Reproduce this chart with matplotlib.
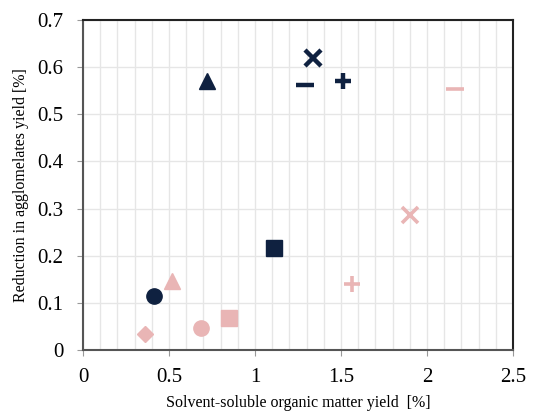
import matplotlib
matplotlib.use("Agg")
import matplotlib.pyplot as plt
import numpy as np

plt.rcParams['font.family'] = ['Liberation Serif', 'DejaVu Serif']

navy = "#0f2140"
pink = "#e9b5b5"

# series: (marker, x, y)
dark_markers = ["o", "^", "s", "_", "x", "+"]
dark_x = [0.41, 0.72, 1.11, 1.29, 1.335, 1.51]
dark_y = [0.115, 0.57, 0.216, 0.563, 0.62, 0.571]

pink_markers = ["D", "^", "o", "s", "+", "x", "_"]
pink_x = [0.36, 0.515, 0.686, 0.85, 1.566, 1.90, 2.16]
pink_y = [0.035, 0.147, 0.046, 0.067, 0.139, 0.287, 0.554]

xticks = [0, 0.5, 1, 1.5, 2, 2.5]
xticklabels = ["0", "0.5", "1", "1.5", "2", "2.5"]
yticks = [0, 0.1, 0.2, 0.3, 0.4, 0.5, 0.6, 0.7]
yticklabels = ["0", "0.1", "0.2", "0.3", "0.4", "0.5", "0.6", "0.7"]

fig = plt.figure(figsize=(5.36, 4.13), dpi=100)
ax = fig.add_axes([83/536, 1-350/413, (513-83)/536, (350-20)/413])

sizes = {"o": 11, "^": 11, "s": 11, "D": 8, "_": 13, "x": 12, "+": 12}
mew = {"o": 1, "^": 1, "s": 1, "D": 1, "_": 3.2, "x": 3.2, "+": 3.2}
pmew = {"o": 1, "^": 1, "s": 1, "D": 1, "_": 2.6, "x": 2.6, "+": 2.6}

for m, x, y in zip(dark_markers, dark_x, dark_y):
    ax.plot([x], [y], linestyle="none", marker=m, markersize=sizes[m],
            color=navy, markeredgewidth=mew[m], zorder=3)
for m, x, y in zip(pink_markers, pink_x, pink_y):
    ax.plot([x], [y], linestyle="none", marker=m, markersize=sizes[m],
            color=pink, markeredgewidth=pmew[m], zorder=3)

ax.set_xlim(0, 2.5)
ax.set_ylim(0, 0.7)
ax.set_xticks(xticks)
ax.set_xticklabels(xticklabels)
ax.set_yticks(yticks)
ax.set_yticklabels(yticklabels)
ax.set_xticks(np.arange(0, 2.5001, 0.1), minor=True)
ax.tick_params(axis="both", which="major", labelsize=15, direction="out",
               length=4, color="#999999")
ax.tick_params(axis="y", which="major", pad=10)
ax.tick_params(axis="x", which="major", pad=9)
ax.tick_params(axis="x", which="minor", length=0)
ax.grid(True, which="both", axis="x", color="#e6e6e6", linewidth=1)
ax.grid(True, which="major", axis="y", color="#e6e6e6", linewidth=1)
ax.set_axisbelow(True)

for s in ["top", "right"]:
    ax.spines[s].set_color("#222222")
    ax.spines[s].set_linewidth(1.5)
for s in ["left", "bottom"]:
    ax.spines[s].set_color("#555555")
    ax.spines[s].set_linewidth(1.5)

ax.set_xlabel("Solvent-soluble organic matter yield  [%]", fontsize=11.5, labelpad=6)
ax.set_ylabel("Reduction in agglomelates yield [%]", fontsize=11.5, labelpad=6)

fig.savefig("out.png", dpi=100)
